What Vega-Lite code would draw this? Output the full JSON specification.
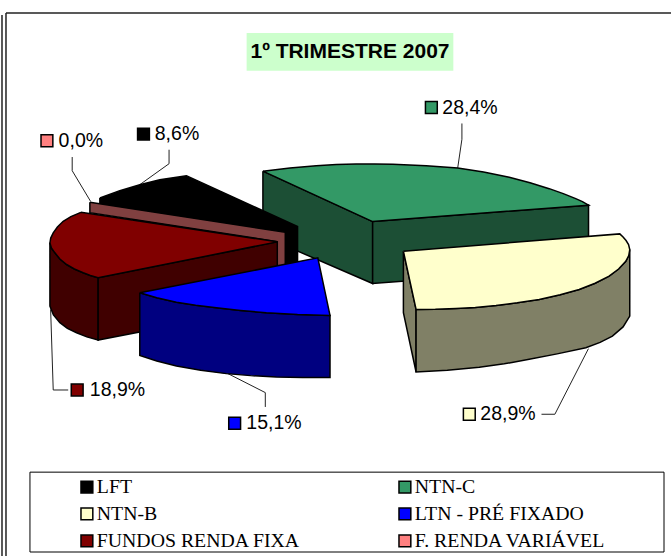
{"$schema":"https://vega.github.io/schema/vega-lite/v6.json","width":672,"height":557,"padding":0,"autosize":{"type":"fit","contains":"padding"},"background":"white","view":{"stroke":null},
"datasets":{
"frame":[{"x":2,"x2":2,"y":15,"y2":557},{"x":6,"x2":6,"y":13,"y2":557},{"x":6,"x2":672,"y":13,"y2":13}],
"leaders":[
{"slice":"LFT","o":1,"x":169.3,"y":150},{"slice":"LFT","o":2,"x":169.3,"y":164},{"slice":"LFT","o":3,"x":140,"y":185},
{"slice":"F. RENDA VARIÁVEL","o":1,"x":72.3,"y":157.3},{"slice":"F. RENDA VARIÁVEL","o":2,"x":72.3,"y":171},{"slice":"F. RENDA VARIÁVEL","o":3,"x":90.7,"y":201.7},
{"slice":"NTN-C","o":1,"x":462.6,"y":123.7},{"slice":"NTN-C","o":2,"x":462.6,"y":139.5},{"slice":"NTN-C","o":3,"x":458.4,"y":168.2},
{"slice":"NTN-B","o":1,"x":542.3,"y":415},{"slice":"NTN-B","o":2,"x":555.7,"y":415},{"slice":"NTN-B","o":3,"x":589.3,"y":349.3},
{"slice":"FUNDOS RENDA FIXA","o":1,"x":50.7,"y":310},{"slice":"FUNDOS RENDA FIXA","o":2,"x":53.3,"y":390.7},{"slice":"FUNDOS RENDA FIXA","o":3,"x":68.3,"y":390.7},
{"slice":"LTN - PRÉ FIXADO","o":1,"x":228.3,"y":374.3},{"slice":"LTN - PRÉ FIXADO","o":2,"x":265.7,"y":393.3},{"slice":"LTN - PRÉ FIXADO","o":3,"x":265.7,"y":407.7}],
"faces":[
{"id":"c1","face":"NTN-C lateral","o":1,"x":263.3,"y":171.5},{"id":"c1","face":"NTN-C lateral","o":2,"x":373.2,"y":222},{"id":"c1","face":"NTN-C lateral","o":3,"x":373.2,"y":284},{"id":"c1","face":"NTN-C lateral","o":4,"x":263.3,"y":236.5},{"id":"c1","face":"NTN-C lateral","o":5,"x":263.3,"y":171.5},
{"id":"c2","face":"NTN-C lateral","o":1,"x":373.2,"y":222},{"id":"c2","face":"NTN-C lateral","o":2,"x":589.4,"y":205.5},{"id":"c2","face":"NTN-C lateral","o":3,"x":589.4,"y":268},{"id":"c2","face":"NTN-C lateral","o":4,"x":373.2,"y":284},{"id":"c2","face":"NTN-C lateral","o":5,"x":373.2,"y":222},
{"id":"c3","face":"NTN-C","o":1,"x":263.3,"y":171.5},{"id":"c3","face":"NTN-C","o":2,"x":290.4,"y":168.2},{"id":"c3","face":"NTN-C","o":3,"x":316.7,"y":166},{"id":"c3","face":"NTN-C","o":4,"x":336.9,"y":164.8},{"id":"c3","face":"NTN-C","o":5,"x":356.7,"y":164.3},{"id":"c3","face":"NTN-C","o":6,"x":375.2,"y":164.2},{"id":"c3","face":"NTN-C","o":7,"x":393.4,"y":164.6},{"id":"c3","face":"NTN-C","o":8,"x":426.8,"y":166},{"id":"c3","face":"NTN-C","o":9,"x":458.4,"y":168.2},{"id":"c3","face":"NTN-C","o":10,"x":484.3,"y":172.2},{"id":"c3","face":"NTN-C","o":11,"x":510,"y":177.5},{"id":"c3","face":"NTN-C","o":12,"x":530.8,"y":183},{"id":"c3","face":"NTN-C","o":13,"x":550,"y":189},{"id":"c3","face":"NTN-C","o":14,"x":564.1,"y":194},{"id":"c3","face":"NTN-C","o":15,"x":576.6,"y":199},{"id":"c3","face":"NTN-C","o":16,"x":583.3,"y":202},{"id":"c3","face":"NTN-C","o":17,"x":589.4,"y":205.5},{"id":"c3","face":"NTN-C","o":18,"x":373.2,"y":222},{"id":"c3","face":"NTN-C","o":19,"x":263.3,"y":171.5},
{"id":"k1","face":"LFT","o":1,"x":100,"y":198.3},{"id":"k1","face":"LFT","o":2,"x":120,"y":191},{"id":"k1","face":"LFT","o":3,"x":140,"y":185},{"id":"k1","face":"LFT","o":4,"x":160,"y":180},{"id":"k1","face":"LFT","o":5,"x":186.7,"y":176},{"id":"k1","face":"LFT","o":6,"x":298,"y":227},{"id":"k1","face":"LFT","o":7,"x":298,"y":266},{"id":"k1","face":"LFT","o":8,"x":285,"y":266},{"id":"k1","face":"LFT","o":9,"x":100,"y":208},{"id":"k1","face":"LFT","o":10,"x":100,"y":198.3},
{"id":"r1","face":"F. RENDA VARIÁVEL lateral","o":1,"x":90,"y":202.7},{"id":"r1","face":"F. RENDA VARIÁVEL lateral","o":2,"x":285.7,"y":232.7},{"id":"r1","face":"F. RENDA VARIÁVEL lateral","o":3,"x":285.7,"y":268},{"id":"r1","face":"F. RENDA VARIÁVEL lateral","o":4,"x":277,"y":268},{"id":"r1","face":"F. RENDA VARIÁVEL lateral","o":5,"x":277,"y":242},{"id":"r1","face":"F. RENDA VARIÁVEL lateral","o":6,"x":90,"y":213},{"id":"r1","face":"F. RENDA VARIÁVEL lateral","o":7,"x":90,"y":202.7},
{"id":"m1","face":"FUNDOS RENDA FIXA lateral","o":1,"x":50,"y":243.3},{"id":"m1","face":"FUNDOS RENDA FIXA lateral","o":2,"x":51.5,"y":248.5},{"id":"m1","face":"FUNDOS RENDA FIXA lateral","o":3,"x":55,"y":253.3},{"id":"m1","face":"FUNDOS RENDA FIXA lateral","o":4,"x":60,"y":259.5},{"id":"m1","face":"FUNDOS RENDA FIXA lateral","o":5,"x":66.7,"y":265},{"id":"m1","face":"FUNDOS RENDA FIXA lateral","o":6,"x":74.5,"y":269.5},{"id":"m1","face":"FUNDOS RENDA FIXA lateral","o":7,"x":83.3,"y":273.3},{"id":"m1","face":"FUNDOS RENDA FIXA lateral","o":8,"x":90.5,"y":276},{"id":"m1","face":"FUNDOS RENDA FIXA lateral","o":9,"x":98.3,"y":278.3},{"id":"m1","face":"FUNDOS RENDA FIXA lateral","o":10,"x":98.3,"y":340.7},{"id":"m1","face":"FUNDOS RENDA FIXA lateral","o":11,"x":87,"y":337.5},{"id":"m1","face":"FUNDOS RENDA FIXA lateral","o":12,"x":76.7,"y":333.3},{"id":"m1","face":"FUNDOS RENDA FIXA lateral","o":13,"x":67.5,"y":329},{"id":"m1","face":"FUNDOS RENDA FIXA lateral","o":14,"x":60,"y":323.3},{"id":"m1","face":"FUNDOS RENDA FIXA lateral","o":15,"x":53.5,"y":315.5},{"id":"m1","face":"FUNDOS RENDA FIXA lateral","o":16,"x":50,"y":306.7},{"id":"m1","face":"FUNDOS RENDA FIXA lateral","o":17,"x":50,"y":243.3},
{"id":"m2","face":"FUNDOS RENDA FIXA lateral","o":1,"x":98.3,"y":278.3},{"id":"m2","face":"FUNDOS RENDA FIXA lateral","o":2,"x":277.7,"y":242.3},{"id":"m2","face":"FUNDOS RENDA FIXA lateral","o":3,"x":277.7,"y":306},{"id":"m2","face":"FUNDOS RENDA FIXA lateral","o":4,"x":98.3,"y":340.7},{"id":"m2","face":"FUNDOS RENDA FIXA lateral","o":5,"x":98.3,"y":278.3},
{"id":"m3","face":"FUNDOS RENDA FIXA","o":1,"x":81,"y":212.7},{"id":"m3","face":"FUNDOS RENDA FIXA","o":2,"x":277.7,"y":242.3},{"id":"m3","face":"FUNDOS RENDA FIXA","o":3,"x":98.3,"y":278.3},{"id":"m3","face":"FUNDOS RENDA FIXA","o":4,"x":90.5,"y":276},{"id":"m3","face":"FUNDOS RENDA FIXA","o":5,"x":83.3,"y":273.3},{"id":"m3","face":"FUNDOS RENDA FIXA","o":6,"x":74.5,"y":269.5},{"id":"m3","face":"FUNDOS RENDA FIXA","o":7,"x":66.7,"y":265},{"id":"m3","face":"FUNDOS RENDA FIXA","o":8,"x":60,"y":259.5},{"id":"m3","face":"FUNDOS RENDA FIXA","o":9,"x":55,"y":253.3},{"id":"m3","face":"FUNDOS RENDA FIXA","o":10,"x":51.5,"y":248.5},{"id":"m3","face":"FUNDOS RENDA FIXA","o":11,"x":50,"y":243.3},{"id":"m3","face":"FUNDOS RENDA FIXA","o":12,"x":50.8,"y":238.5},{"id":"m3","face":"FUNDOS RENDA FIXA","o":13,"x":53.3,"y":233.3},{"id":"m3","face":"FUNDOS RENDA FIXA","o":14,"x":57.5,"y":227.5},{"id":"m3","face":"FUNDOS RENDA FIXA","o":15,"x":63.3,"y":221.7},{"id":"m3","face":"FUNDOS RENDA FIXA","o":16,"x":71,"y":217},{"id":"m3","face":"FUNDOS RENDA FIXA","o":17,"x":81,"y":212.7},
{"id":"b1","face":"LTN - PRÉ FIXADO lateral","o":1,"x":140,"y":293.3},{"id":"b1","face":"LTN - PRÉ FIXADO lateral","o":2,"x":157,"y":298.3},{"id":"b1","face":"LTN - PRÉ FIXADO lateral","o":3,"x":176.7,"y":302.7},{"id":"b1","face":"LTN - PRÉ FIXADO lateral","o":4,"x":196,"y":305.8},{"id":"b1","face":"LTN - PRÉ FIXADO lateral","o":5,"x":216.7,"y":308.3},{"id":"b1","face":"LTN - PRÉ FIXADO lateral","o":6,"x":241,"y":311},{"id":"b1","face":"LTN - PRÉ FIXADO lateral","o":7,"x":266.7,"y":313.3},{"id":"b1","face":"LTN - PRÉ FIXADO lateral","o":8,"x":298,"y":315},{"id":"b1","face":"LTN - PRÉ FIXADO lateral","o":9,"x":330.5,"y":316},{"id":"b1","face":"LTN - PRÉ FIXADO lateral","o":10,"x":330.5,"y":378.3},{"id":"b1","face":"LTN - PRÉ FIXADO lateral","o":11,"x":303,"y":378.2},{"id":"b1","face":"LTN - PRÉ FIXADO lateral","o":12,"x":276.7,"y":377.7},{"id":"b1","face":"LTN - PRÉ FIXADO lateral","o":13,"x":251,"y":376.3},{"id":"b1","face":"LTN - PRÉ FIXADO lateral","o":14,"x":226.7,"y":374.3},{"id":"b1","face":"LTN - PRÉ FIXADO lateral","o":15,"x":201,"y":371},{"id":"b1","face":"LTN - PRÉ FIXADO lateral","o":16,"x":176.7,"y":366.7},{"id":"b1","face":"LTN - PRÉ FIXADO lateral","o":17,"x":157,"y":361.7},{"id":"b1","face":"LTN - PRÉ FIXADO lateral","o":18,"x":140,"y":356},{"id":"b1","face":"LTN - PRÉ FIXADO lateral","o":19,"x":140,"y":293.3},
{"id":"b2","face":"LTN - PRÉ FIXADO","o":1,"x":140,"y":293.3},{"id":"b2","face":"LTN - PRÉ FIXADO","o":2,"x":318.3,"y":258.3},{"id":"b2","face":"LTN - PRÉ FIXADO","o":3,"x":330.5,"y":316},{"id":"b2","face":"LTN - PRÉ FIXADO","o":4,"x":298,"y":315},{"id":"b2","face":"LTN - PRÉ FIXADO","o":5,"x":266.7,"y":313.3},{"id":"b2","face":"LTN - PRÉ FIXADO","o":6,"x":241,"y":311},{"id":"b2","face":"LTN - PRÉ FIXADO","o":7,"x":216.7,"y":308.3},{"id":"b2","face":"LTN - PRÉ FIXADO","o":8,"x":196,"y":305.8},{"id":"b2","face":"LTN - PRÉ FIXADO","o":9,"x":176.7,"y":302.7},{"id":"b2","face":"LTN - PRÉ FIXADO","o":10,"x":157,"y":298.3},{"id":"b2","face":"LTN - PRÉ FIXADO","o":11,"x":140,"y":293.3},
{"id":"y1","face":"NTN-B lateral","o":1,"x":404,"y":251.7},{"id":"y1","face":"NTN-B lateral","o":2,"x":416.7,"y":310},{"id":"y1","face":"NTN-B lateral","o":3,"x":416.7,"y":372.7},{"id":"y1","face":"NTN-B lateral","o":4,"x":404,"y":313.3},{"id":"y1","face":"NTN-B lateral","o":5,"x":404,"y":251.7},
{"id":"y2","face":"NTN-B lateral","o":1,"x":416.7,"y":310},{"id":"y2","face":"NTN-B lateral","o":2,"x":436,"y":309.8},{"id":"y2","face":"NTN-B lateral","o":3,"x":456.7,"y":309},{"id":"y2","face":"NTN-B lateral","o":4,"x":476,"y":308},{"id":"y2","face":"NTN-B lateral","o":5,"x":496.7,"y":306},{"id":"y2","face":"NTN-B lateral","o":6,"x":518,"y":303.3},{"id":"y2","face":"NTN-B lateral","o":7,"x":540,"y":300},{"id":"y2","face":"NTN-B lateral","o":8,"x":561,"y":295.3},{"id":"y2","face":"NTN-B lateral","o":9,"x":580,"y":290},{"id":"y2","face":"NTN-B lateral","o":10,"x":596,"y":283.8},{"id":"y2","face":"NTN-B lateral","o":11,"x":610,"y":276.7},{"id":"y2","face":"NTN-B lateral","o":12,"x":619.5,"y":269.5},{"id":"y2","face":"NTN-B lateral","o":13,"x":626.7,"y":261.7},{"id":"y2","face":"NTN-B lateral","o":14,"x":629.7,"y":256},{"id":"y2","face":"NTN-B lateral","o":15,"x":630.7,"y":250},{"id":"y2","face":"NTN-B lateral","o":16,"x":630.7,"y":316.7},{"id":"y2","face":"NTN-B lateral","o":17,"x":624,"y":327.5},{"id":"y2","face":"NTN-B lateral","o":18,"x":613.3,"y":336.7},{"id":"y2","face":"NTN-B lateral","o":19,"x":601,"y":343},{"id":"y2","face":"NTN-B lateral","o":20,"x":586.7,"y":348.3},{"id":"y2","face":"NTN-B lateral","o":21,"x":558,"y":354.5},{"id":"y2","face":"NTN-B lateral","o":22,"x":530,"y":360},{"id":"y2","face":"NTN-B lateral","o":23,"x":505,"y":364.5},{"id":"y2","face":"NTN-B lateral","o":24,"x":480,"y":368},{"id":"y2","face":"NTN-B lateral","o":25,"x":448,"y":371},{"id":"y2","face":"NTN-B lateral","o":26,"x":416.7,"y":372.7},{"id":"y2","face":"NTN-B lateral","o":27,"x":416.7,"y":310},
{"id":"y3","face":"NTN-B","o":1,"x":404,"y":251.7},{"id":"y3","face":"NTN-B","o":2,"x":620.7,"y":234.3},{"id":"y3","face":"NTN-B","o":3,"x":624,"y":237.5},{"id":"y3","face":"NTN-B","o":4,"x":627,"y":241},{"id":"y3","face":"NTN-B","o":5,"x":629.5,"y":245},{"id":"y3","face":"NTN-B","o":6,"x":630.7,"y":250},{"id":"y3","face":"NTN-B","o":7,"x":629.7,"y":256},{"id":"y3","face":"NTN-B","o":8,"x":626.7,"y":261.7},{"id":"y3","face":"NTN-B","o":9,"x":619.5,"y":269.5},{"id":"y3","face":"NTN-B","o":10,"x":610,"y":276.7},{"id":"y3","face":"NTN-B","o":11,"x":596,"y":283.8},{"id":"y3","face":"NTN-B","o":12,"x":580,"y":290},{"id":"y3","face":"NTN-B","o":13,"x":561,"y":295.3},{"id":"y3","face":"NTN-B","o":14,"x":540,"y":300},{"id":"y3","face":"NTN-B","o":15,"x":518,"y":303.3},{"id":"y3","face":"NTN-B","o":16,"x":496.7,"y":306},{"id":"y3","face":"NTN-B","o":17,"x":476,"y":308},{"id":"y3","face":"NTN-B","o":18,"x":456.7,"y":309},{"id":"y3","face":"NTN-B","o":19,"x":436,"y":309.8},{"id":"y3","face":"NTN-B","o":20,"x":416.7,"y":310},{"id":"y3","face":"NTN-B","o":21,"x":404,"y":251.7}],
"slices":[
{"slice":"LFT","pct":8.6,"label":"8,6%","x":143.7,"y":134.3,"xt":155},
{"slice":"NTN-C","pct":28.4,"label":"28,4%","x":432,"y":107.7,"xt":443},
{"slice":"NTN-B","pct":28.9,"label":"28,9%","x":470,"y":415,"xt":481},
{"slice":"LTN - PRÉ FIXADO","pct":15.1,"label":"15,1%","x":235,"y":424,"xt":246.7},
{"slice":"FUNDOS RENDA FIXA","pct":18.9,"label":"18,9%","x":77.3,"y":390.7,"xt":90},
{"slice":"F. RENDA VARIÁVEL","pct":0.0,"label":"0,0%","x":47,"y":141,"xt":58.7}]
},
"encoding":{
"x":{"field":"x","type":"quantitative","scale":{"domain":[0,672],"nice":false,"zero":false},"axis":null},
"y":{"field":"y","type":"quantitative","scale":{"domain":[557,0],"nice":false,"zero":false},"axis":null}},
"layer":[
{"data":{"values":[{"x":247,"x2":454,"y":33,"y2":71}]},"mark":{"type":"rect","fill":"#ccffcc"},"encoding":{"x2":{"field":"x2"},"y2":{"field":"y2"}}},
{"data":{"values":[{"x":350.5,"y":52,"t":"1º TRIMESTRE 2007"}]},"mark":{"type":"text","font":"Liberation Sans","fontWeight":"bold","fontSize":21,"fill":"#000","align":"center","baseline":"middle"},"encoding":{"text":{"field":"t"}}},
{"data":{"name":"frame"},"mark":{"type":"rule","stroke":"#222","strokeWidth":1.5},"encoding":{"x2":{"field":"x2"},"y2":{"field":"y2"}}},
{"data":{"values":[{"x":30,"x2":665,"y":473,"y2":553}]},"mark":{"type":"rect","fill":null,"stroke":"#000","strokeWidth":1},"encoding":{"x2":{"field":"x2"},"y2":{"field":"y2"}}},
{"data":{"name":"leaders"},"mark":{"type":"line","stroke":"#222","strokeWidth":1},"encoding":{"detail":{"field":"slice"},"order":{"field":"o"}}},
{"data":{"name":"faces"},"mark":{"type":"line","stroke":"#000","strokeWidth":1.5,"strokeJoin":"miter"},"encoding":{"detail":{"field":"id"},"order":{"field":"o"},"fill":{"field":"face","type":"nominal"}}},
{"data":{"name":"slices"},"mark":{"type":"point","shape":"square","filled":true,"size":140,"stroke":"#000","strokeWidth":1.5,"opacity":1},"encoding":{"fill":{"field":"slice","type":"nominal","scale":{"domain":["LFT","NTN-C","NTN-B","LTN - PRÉ FIXADO","FUNDOS RENDA FIXA","F. RENDA VARIÁVEL","NTN-C lateral","NTN-B lateral","LTN - PRÉ FIXADO lateral","FUNDOS RENDA FIXA lateral","F. RENDA VARIÁVEL lateral"],"range":["#000000","#339966","#ffffcc","#0000ff","#800000","#ff8080","#1c4f35","#808066","#000080","#400000","#804040"]},
"legend":{"title":null,"orient":"none","legendX":77,"legendY":477,"columns":2,"padding":0,"values":["LFT","NTN-B","FUNDOS RENDA FIXA","NTN-C","LTN - PRÉ FIXADO","F. RENDA VARIÁVEL"],"symbolType":"square","symbolSize":140,"symbolStrokeColor":"#000","symbolStrokeWidth":1.5,"labelFont":"Liberation Serif","labelFontSize":19.8,"labelColor":"#000","labelLimit":300,"labelOffset":0,"rowPadding":6,"columnPadding":94,"zindex":1}}}},
{"data":{"name":"slices"},"mark":{"type":"text","font":"Liberation Sans","fontSize":19.5,"fill":"#000","align":"left","baseline":"middle"},"encoding":{"x":{"field":"xt","type":"quantitative"},"text":{"field":"label"}}}
]}
